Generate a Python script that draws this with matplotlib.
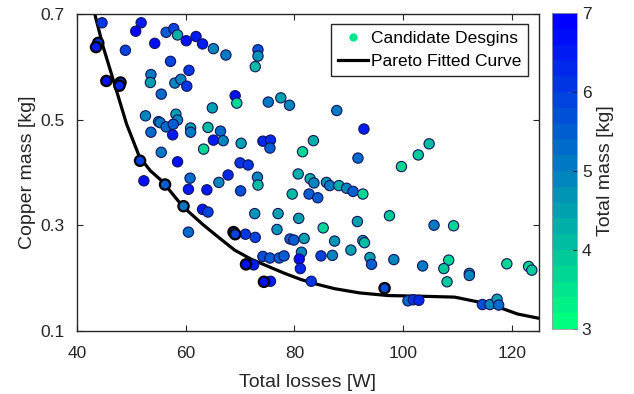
import numpy as np
import matplotlib
matplotlib.use("Agg")
import matplotlib.pyplot as plt
from matplotlib.colors import ListedColormap
from matplotlib.lines import Line2D

# candidate designs: losses [W], copper mass [kg], total mass [kg]
loss = [44.6, 51.8, 50.8, 56.4, 57.8, 58.5, 60.1, 61.9, 63.1, 65.1, 67.4, 54.3,
        48.9, 57.2, 60.6, 53.6, 53.5, 58.0, 59.1, 60.2, 55.5, 69.1, 69.4,
        64.9, 52.6, 55.0, 55.3, 56.4, 58.2, 58.5, 57.7, 57.6, 53.6, 60.9, 60.9,
        64.1, 66.4, 65.1, 66.9, 63.3, 55.5, 58.5, 67.8, 75.2, 77.5, 79.1, 70.2,
        74.2, 75.6, 75.5, 70.0, 71.5, 73.3, 73.3, 72.8, 87.8, 92.8, 83.5, 81.5,
        91.7, 104.8, 102.8, 99.7, 52.3, 60.8, 60.5, 63.9, 66.1, 70.1, 63.1, 64.1,
        60.5, 73.2, 73.3, 80.7, 82.9, 83.6, 85.9, 86.5, 88.2, 89.6, 90.8, 92.6,
        79.6, 82.7, 84.3, 72.7, 77.0, 80.8, 76.8, 85.3, 91.6, 97.5, 71.0, 72.8,
        79.2, 79.9, 81.8, 87.4, 90.4, 92.6, 92.9, 81.3, 80.9, 81.1, 84.9, 87.0,
        74.2, 75.5, 77.2, 78.1, 72.5, 75.6, 83.1, 93.9, 94.2, 105.7, 109.3, 98.3,
        103.6, 108.4, 107.5, 108.1, 112.2, 112.2, 119.1, 123.1, 123.7, 100.9,
        101.9, 102.9, 114.6, 116.0, 117.3, 117.6]
copper = [0.683, 0.683, 0.667, 0.665, 0.672, 0.660, 0.649, 0.657, 0.643, 0.634,
          0.622, 0.644, 0.631, 0.610, 0.593, 0.585, 0.570, 0.569, 0.576, 0.563,
          0.548, 0.545, 0.531, 0.522, 0.507, 0.496, 0.494, 0.486, 0.510, 0.499,
          0.491, 0.471, 0.476, 0.484, 0.476, 0.485, 0.478, 0.461, 0.460, 0.444,
          0.438, 0.420, 0.395, 0.533, 0.541, 0.527, 0.455, 0.459, 0.461, 0.446,
          0.418, 0.414, 0.632, 0.620, 0.600, 0.517, 0.482, 0.460, 0.439, 0.427,
          0.454, 0.433, 0.411, 0.384, 0.389, 0.368, 0.367, 0.381, 0.365, 0.330,
          0.325, 0.287, 0.391, 0.376, 0.397, 0.388, 0.380, 0.381, 0.375, 0.375,
          0.370, 0.364, 0.359, 0.359, 0.359, 0.352, 0.322, 0.322, 0.313, 0.292,
          0.295, 0.307, 0.318, 0.283, 0.277, 0.274, 0.272, 0.275, 0.270, 0.253,
          0.271, 0.267, 0.249, 0.236, 0.218, 0.242, 0.243, 0.241, 0.238, 0.238,
          0.242, 0.225, 0.194, 0.194, 0.239, 0.226, 0.300, 0.299, 0.235, 0.223,
          0.234, 0.218, 0.193, 0.209, 0.205, 0.227, 0.222, 0.215, 0.157, 0.159,
          0.158, 0.150, 0.150, 0.160, 0.149]
mass = [6.0, 6.5, 6.8, 5.4, 5.8, 4.2, 6.7, 6.4, 6.5, 4.8, 5.0, 6.7,
        5.8, 5.9, 6.0, 5.0, 4.6, 4.8, 4.8, 6.0, 5.2, 6.7, 3.8,
        4.6, 4.8, 5.2, 5.0, 5.3, 4.6, 4.8, 5.4, 6.5, 5.2, 4.6, 5.0,
        4.1, 5.2, 6.4, 4.9, 3.7, 5.1, 6.7, 6.3, 5.0, 4.6, 4.8, 4.6,
        6.2, 6.2, 5.5, 6.1, 6.0, 5.7, 4.7, 4.1, 5.0, 6.4, 4.3, 3.8,
        5.3, 4.0, 3.9, 3.6, 6.6, 5.3, 6.4, 6.4, 4.8, 5.7, 6.5, 5.9,
        5.2, 4.9, 4.0, 4.2, 4.3, 4.8, 4.7, 5.1, 4.3, 4.8, 5.6, 3.8,
        4.0, 5.6, 5.6, 4.7, 4.6, 4.6, 4.7, 3.8, 4.4, 3.9, 6.1, 5.9,
        5.6, 5.6, 4.6, 4.7, 4.6, 4.6, 4.0, 4.8, 6.6, 6.2, 5.8, 4.8,
        5.7, 5.6, 5.6, 5.6, 6.4, 6.5, 6.1, 4.6, 5.6, 5.0, 3.7, 4.8,
        5.0, 3.7, 3.9, 3.9, 4.7, 4.8, 3.6, 3.8, 3.9, 5.2,
        6.0, 6.2, 5.7, 4.8, 4.6, 5.2]

# designs lying on the Pareto front (drawn with black outlines)
pareto_loss = [43.9, 43.5, 45.4, 48.0, 47.8, 51.6, 56.2, 59.6, 68.8, 69.1,
               71.1, 74.4, 96.6]
pareto_copper = [0.645, 0.637, 0.573, 0.570, 0.564, 0.422, 0.377, 0.336, 0.287,
                 0.283, 0.226, 0.193, 0.181]
pareto_mass = [6.0, 6.5, 6.6, 5.8, 6.2, 5.8, 5.5, 5.0, 5.4, 5.9, 6.6, 6.7, 5.7]

# fitted curve
curve_loss = [43.25, 44.8, 46.9, 49.1, 51.5, 53.5, 55.6, 59.5, 63.2, 66.3, 69.0,
              72.0, 75.2, 78.2, 81.3, 84.3, 87.4, 92.0, 97.2, 102.0, 106.0,
              109.5, 113.8, 118.1, 121.1, 125.0]
curve_copper = [0.700, 0.638, 0.567, 0.492, 0.429, 0.403, 0.384, 0.335, 0.301,
                0.275, 0.253, 0.236, 0.222, 0.209, 0.197, 0.188, 0.180, 0.172,
                0.167, 0.166, 0.165, 0.164, 0.155, 0.143, 0.132, 0.124]

plt.rcParams["font.family"] = ["Liberation Sans", "DejaVu Sans"]

cmap = ListedColormap(plt.get_cmap("winter_r")(np.linspace(0, 1, 20)))

fig = plt.figure(figsize=(6.34, 3.94), dpi=100)
ax = fig.add_axes([0.1215, 0.160, 0.7285, 0.805])
cax = fig.add_axes([0.871, 0.165, 0.039, 0.802])

ax.plot(curve_loss, curve_copper, color="black", lw=2.3, zorder=2)
sc = ax.scatter(loss, copper, c=mass, cmap=cmap, vmin=3, vmax=7, s=55,
                edgecolors="#14145a", linewidths=0.8, zorder=3)
ax.scatter(pareto_loss, pareto_copper, c=pareto_mass, cmap=cmap, vmin=3, vmax=7,
           s=55, edgecolors="black", linewidths=1.6, zorder=4)

ax.set_xlim(40, 125)
ax.set_ylim(0.1, 0.7)
ax.set_xticks([40, 60, 80, 100, 120])
ax.set_yticks([0.1, 0.3, 0.5, 0.7])
ax.tick_params(direction="in", top=True, right=True, labelsize=12.5,
               length=4, width=0.8, colors="#262626")
ax.tick_params(axis="x", pad=11)
ax.tick_params(axis="y", pad=9)
for sp in ax.spines.values():
    sp.set_color("#262626")
    sp.set_linewidth(1.0)
ax.set_xlabel("Total losses [W]", fontsize=14, color="#262626", labelpad=9)
ax.set_ylabel("Copper mass [kg]", fontsize=14, color="#262626", labelpad=3)

handles = [Line2D([], [], marker="o", ls="none", color=cmap(0.1), markersize=5),
           Line2D([], [], color="black", lw=2.3)]
leg = ax.legend(handles, ["Candidate Desgins", "Pareto Fitted Curve"],
                loc="upper right", fontsize=12.5, frameon=True, fancybox=False,
                framealpha=1, edgecolor="#262626", borderaxespad=0.6,
                handlelength=1.7, handletextpad=0.2, borderpad=0.4,
                labelspacing=0.45)
leg.get_frame().set_linewidth(1.0)

cb = fig.colorbar(sc, cax=cax, ticks=[3, 4, 5, 6, 7])
cb.outline.set_edgecolor("#999999")
cb.outline.set_linewidth(0.6)
cb.ax.tick_params(direction="in", labelsize=12.5, length=3, colors="#262626")
cb.set_label("Total mass [kg]", fontsize=14, color="#262626", labelpad=4)

fig.savefig("out.png", dpi=100)
